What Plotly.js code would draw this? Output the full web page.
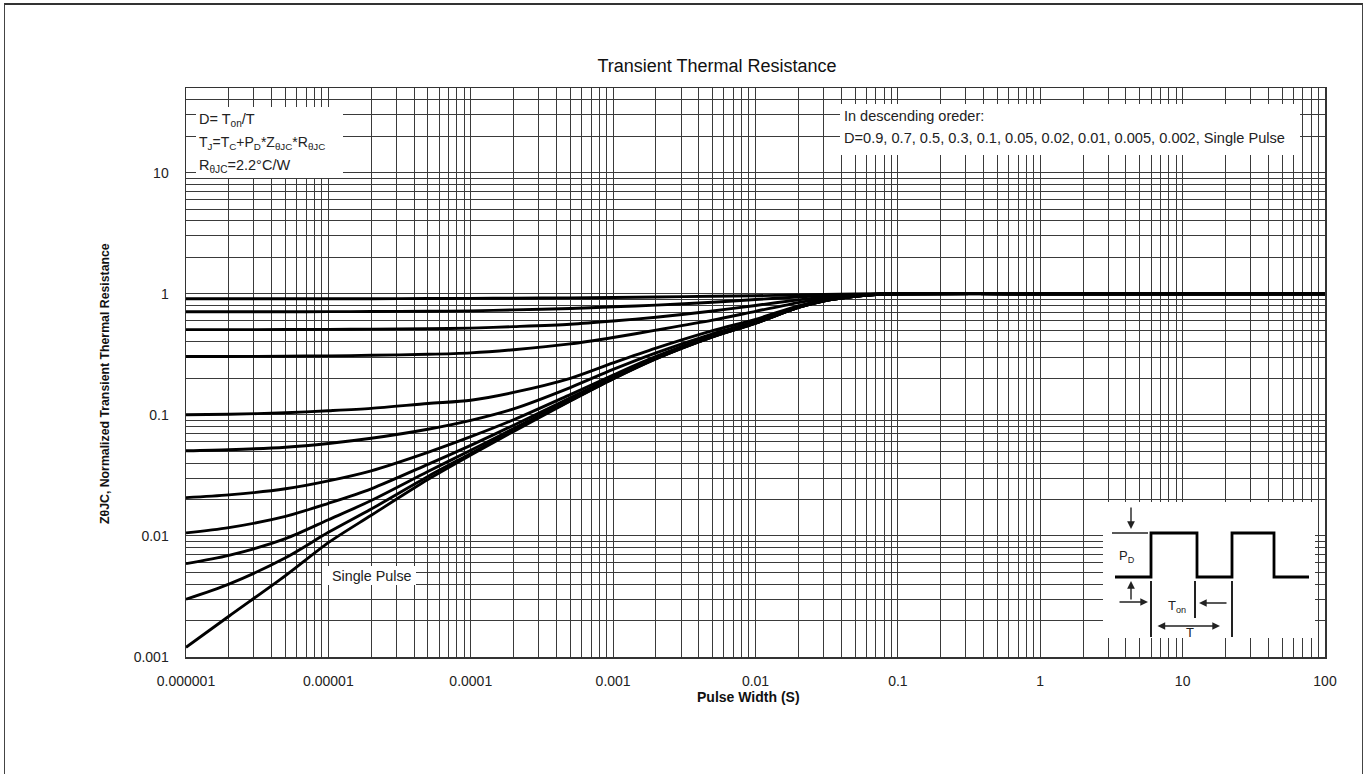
<!DOCTYPE html>
<html>
<head>
<meta charset="utf-8">
<script src="https://cdn.plot.ly/plotly-3.0.1.min.js"></script>
<style>
  html, body { margin: 0; padding: 0; background: #fff; }
  #chart { width: 1369px; height: 774px; position: absolute; left: 0; top: 0; }
  #frame { position: absolute; left: 4px; top: 3px; width: 1357px; height: 800px;
           border: 1px solid #444; border-top: 2px solid #333; pointer-events: none; }
</style>
</head>
<body>
<div id="chart"></div>
<div id="frame"></div>
<script>
// ---------- data ----------
const pulseWidth = [1e-6, 2e-6, 5e-6, 1e-5, 2e-5, 5e-5, 1e-4, 2e-4, 5e-4, 1e-3,
                    2e-3, 5e-3, 1e-2, 2e-2, 3e-2, 5e-2, 7e-2, 1e-1, 1, 10, 100];

const dutyLabels = ["D=0.9", "D=0.7", "D=0.5", "D=0.3", "D=0.1", "D=0.05",
                    "D=0.02", "D=0.01", "D=0.005", "D=0.002", "Single Pulse"];

const zD090  = [0.91, 0.91, 0.91, 0.91, 0.91, 0.912, 0.915, 0.918, 0.924, 0.93, 0.94, 0.952, 0.963, 0.978, 0.986, 0.995, 0.998, 1.0, 1, 1, 1];
const zD070  = [0.71, 0.71, 0.71, 0.711, 0.713, 0.717, 0.722, 0.735, 0.755, 0.78, 0.805, 0.85, 0.895, 0.94, 0.965, 0.985, 0.995, 1.0, 1, 1, 1];
const zD050  = [0.505, 0.505, 0.506, 0.508, 0.51, 0.515, 0.52, 0.535, 0.56, 0.595, 0.64, 0.72, 0.8, 0.89, 0.935, 0.975, 0.992, 1.0, 1, 1, 1];
const zD030  = [0.303, 0.303, 0.305, 0.307, 0.31, 0.316, 0.325, 0.345, 0.385, 0.435, 0.5, 0.605, 0.715, 0.845, 0.912, 0.966, 0.99, 1.0, 1, 1, 1];
const zD010  = [0.1, 0.101, 0.104, 0.108, 0.113, 0.124, 0.132, 0.153, 0.2, 0.268, 0.355, 0.495, 0.615, 0.795, 0.885, 0.957, 0.987, 1.0, 1, 1, 1];
const zD005  = [0.0505, 0.0515, 0.054, 0.058, 0.064, 0.076, 0.09, 0.112, 0.168, 0.237, 0.325, 0.467, 0.59, 0.78, 0.876, 0.953, 0.986, 1.0, 1, 1, 1];
const zD002  = [0.0207, 0.0218, 0.0245, 0.0285, 0.0345, 0.049, 0.066, 0.091, 0.147, 0.213, 0.304, 0.451, 0.578, 0.775, 0.873, 0.951, 0.985, 1.0, 1, 1, 1];
const zD001  = [0.0106, 0.0117, 0.0145, 0.0186, 0.0245, 0.039, 0.056, 0.082, 0.138, 0.205, 0.297, 0.446, 0.574, 0.772, 0.871, 0.95, 0.985, 1.0, 1, 1, 1];
const zD0005 = [0.0059, 0.0069, 0.0095, 0.0136, 0.0196, 0.034, 0.051, 0.077, 0.134, 0.201, 0.293, 0.443, 0.572, 0.771, 0.87, 0.95, 0.985, 1.0, 1, 1, 1];
const zD0002 = [0.003, 0.004, 0.0066, 0.0107, 0.0167, 0.031, 0.048, 0.075, 0.131, 0.199, 0.291, 0.441, 0.571, 0.77, 0.87, 0.95, 0.985, 1.0, 1, 1, 1];
const zSingle = [0.0012, 0.00217, 0.0047, 0.0088, 0.0148, 0.0292, 0.0465, 0.073, 0.13, 0.198, 0.29, 0.44, 0.57, 0.77, 0.87, 0.95, 0.985, 1.0, 1, 1, 1];

const xTickVals = [1e-6, 1e-5, 1e-4, 1e-3, 1e-2, 1e-1, 1, 10, 100];
const xTickText = ["0.000001", "0.00001", "0.0001", "0.001", "0.01", "0.1", "1", "10", "100"];
const yTickVals = [0.001, 0.01, 0.1, 1, 10];
const yTickText = ["0.001", "0.01", "0.1", "1", "10"];

// ---------- build ----------
const series = [zD090, zD070, zD050, zD030, zD010, zD005, zD002, zD001, zD0005, zD0002, zSingle];
const traces = series.map((ys, i) => ({
  type: 'scatter', mode: 'lines', name: dutyLabels[i],
  x: pulseWidth, y: ys,
  line: { color: '#000', width: 2.9, shape: 'spline', smoothing: 0.8 },
  hoverinfo: 'name+x+y'
}));

function minorVals(lo, hi) {
  const out = [];
  for (let d = lo; d < hi; d++) for (let k = 2; k <= 9; k++) out.push(k * Math.pow(10, d));
  return out;
}
const yMinor = minorVals(-3, 1).concat([20, 30, 40, 50]);
const xMinor = minorVals(-6, 2);

// plot area geometry (pixels) -> paper helpers for decorations
const L = 186, R = 1325, T = 88, B = 657;
const PX = p => (p - L) / (R - L);
const PY = p => (B - p) / (B - T);

const SANS = 'Liberation Sans, Arial, sans-serif';
const txtFont = { family: SANS, size: 14, color: '#222' };
const gridC = '#3a3a3a';

const shapes = [];
const annotations = [];
function rect(x0, y0, x1, y1) {
  shapes.push({ type: 'rect', xref: 'paper', yref: 'paper', layer: 'above',
    x0: PX(x0), x1: PX(x1), y0: PY(y1), y1: PY(y0), fillcolor: '#fff', line: { width: 0 } });
}
function seg(x0, y0, x1, y1, w, c) {
  shapes.push({ type: 'line', xref: 'paper', yref: 'paper', layer: 'above',
    x0: PX(x0), x1: PX(x1), y0: PY(y0), y1: PY(y1), line: { color: c || '#222', width: w || 1.5 } });
}
function path(pts, w) {
  let d = '';
  pts.forEach((p, i) => { d += (i ? ' L ' : 'M ') + PX(p[0]) + ',' + PY(p[1]); });
  shapes.push({ type: 'path', xref: 'paper', yref: 'paper', layer: 'above', path: d,
    line: { color: '#000', width: w } });
}
function label(px, py, text, anchor, size, extra) {
  annotations.push(Object.assign({ xref: 'paper', yref: 'paper', x: PX(px), y: PY(py), text: text,
    showarrow: false, xanchor: anchor || 'left', yanchor: 'middle',
    font: Object.assign({}, txtFont, size ? { size: size } : {}) }, extra || {}));
}
function arrow(hx, hy, tx, ty, both) {
  annotations.push({ xref: 'paper', yref: 'paper', x: PX(hx), y: PY(hy), ax: tx - hx, ay: ty - hy,
    axref: 'pixel', ayref: 'pixel', text: '', showarrow: true, arrowhead: 2, arrowsize: 1.1,
    arrowwidth: 1.4, arrowcolor: '#222', arrowside: both ? 'end+start' : 'end' });
}

// top-left info box
rect(196, 107, 343, 178);
label(197, 120, 'D= T<sub>on</sub>/T', 'left', 14.5);
label(197, 143, 'T<sub>J</sub>=T<sub>C</sub>+P<sub>D</sub>*Z<sub>θJC</sub>*R<sub>θJC</sub>', 'left', 14);
label(197, 166, 'R<sub>θJC</sub>=2.2°C/W', 'left', 14.5);

// top-right box
rect(840, 104, 1300, 155);
label(842, 116, 'In descending oreder:', 'left', 14.5);
label(842, 138, 'D=0.9, 0.7, 0.5, 0.3, 0.1, 0.05, 0.02, 0.01, 0.005, 0.002, Single Pulse', 'left', 14.6);

// single pulse label
rect(322, 566, 416, 585);
label(330, 576, 'Single Pulse', 'left', 14.3);

// inset pulse diagram
rect(1103, 502, 1315, 638);
path([[1115, 577], [1151, 577], [1151, 533], [1197, 533], [1197, 577], [1232, 577],
      [1232, 533], [1274, 533], [1274, 577], [1309, 577]], 2.8);
seg(1112, 533, 1148, 533, 1.5);
seg(1151, 581, 1151, 637, 2);
seg(1195, 581, 1195, 618, 2);
seg(1232, 581, 1232, 637, 2);
arrow(1131, 529, 1131, 506);
arrow(1131, 581, 1131, 601);
arrow(1148, 602, 1118, 602);
arrow(1199, 603, 1228, 603);
arrow(1220, 626, 1156, 626, true);
label(1127, 556, 'P<sub>D</sub>', 'center', 13);
label(1177, 606, 'T<sub>on</sub>', 'center', 13);
label(1190, 632, 'T', 'center', 13);

// axis titles (placed as in the reference)
label(748, 697, 'Pulse Width (S)', 'center', 14, { font: { family: SANS, size: 14, color: '#111', weight: 'bold' } });
label(105, 384, 'ZθJC, Normalized Transient Thermal Resistance', 'center', 12,
  { textangle: -90, font: { family: SANS, size: 12.3, color: '#111', weight: 'bold' } });

const layout = {
  width: 1369, height: 774,
  margin: { l: L, r: 1369 - R, t: T, b: 774 - B, pad: 0 },
  paper_bgcolor: '#fff', plot_bgcolor: '#fff',
  showlegend: false,
  title: {
    text: 'Transient Thermal Resistance',
    font: { family: SANS, size: 18, color: '#111' },
    x: 717 / 1369, xref: 'container', xanchor: 'center',
    y: 1 - 66 / 774, yref: 'container', yanchor: 'middle'
  },
  xaxis: {
    type: 'log', range: [-6, 2], autorange: false,
    tickmode: 'array', tickvals: xTickVals, ticktext: xTickText,
    ticks: 'outside', ticklen: 11, tickcolor: 'rgba(0,0,0,0)',
    tickfont: { family: SANS, size: 14, color: '#222' },
    showgrid: true, gridcolor: gridC, gridwidth: 1,
    minor: { tickmode: 'array', tickvals: xMinor, showgrid: true, gridcolor: gridC, gridwidth: 1, ticks: '' },
    showline: true, mirror: true, linecolor: '#333', linewidth: 1.5,
    zeroline: false
  },
  yaxis: {
    type: 'log', range: [-3, Math.log10(50)], autorange: false,
    tickmode: 'array', tickvals: yTickVals, ticktext: yTickText,
    ticks: 'outside', ticklen: 13, tickcolor: 'rgba(0,0,0,0)',
    tickfont: { family: SANS, size: 14, color: '#222' },
    showgrid: true, gridcolor: gridC, gridwidth: 1,
    minor: { tickmode: 'array', tickvals: yMinor, showgrid: true, gridcolor: gridC, gridwidth: 1, ticks: '' },
    showline: true, mirror: true, linecolor: '#333', linewidth: 1.5,
    zeroline: false
  },
  shapes: shapes,
  annotations: annotations
};

Plotly.newPlot('chart', traces, layout, { displayModeBar: false, staticPlot: true });
</script>
</body>
</html>
